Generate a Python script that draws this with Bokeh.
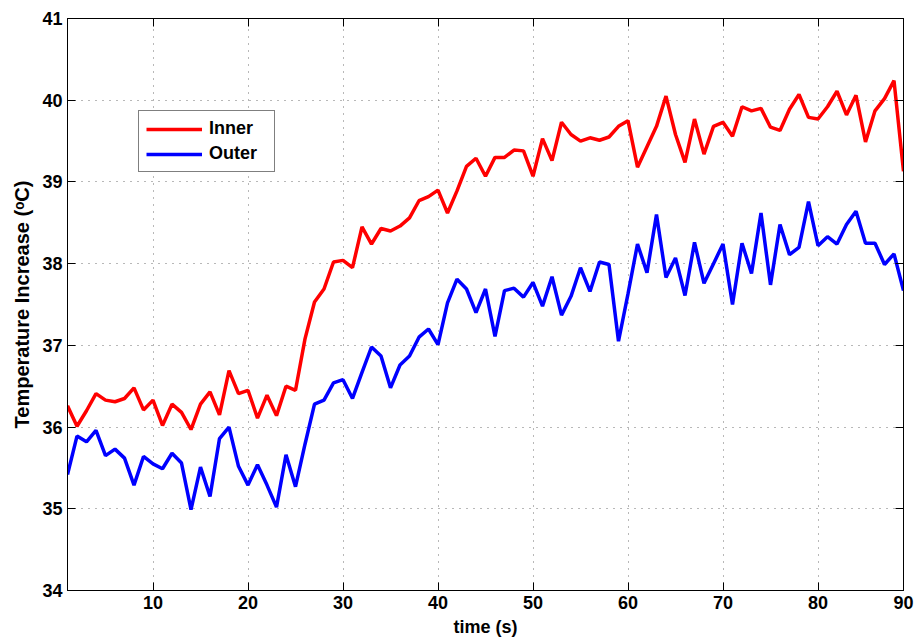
from bokeh.plotting import figure
from bokeh.models import LinearAxis, FixedTicker, Legend, LegendItem, Range1d
from bokeh.embed import file_html
from bokeh.resources import INLINE

# time index (s) of each sample
time = list(range(1, 90))

inner = [36.26, 36.01, 36.20, 36.41, 36.33, 36.31, 36.35, 36.48, 36.21, 36.33,
         36.02, 36.28, 36.18, 35.97, 36.28, 36.43, 36.15, 36.69, 36.41, 36.45,
         36.11, 36.39, 36.14, 36.50, 36.45, 37.08, 37.53, 37.69, 38.02, 38.04,
         37.95, 38.45, 38.24, 38.43, 38.40, 38.46, 38.56, 38.77, 38.82, 38.90,
         38.62, 38.89, 39.19, 39.29, 39.07, 39.30, 39.30, 39.39, 39.38, 39.07,
         39.53, 39.26, 39.73, 39.58, 39.50, 39.54, 39.51, 39.55, 39.68, 39.75,
         39.18, 39.43, 39.68, 40.05, 39.58, 39.24, 39.77, 39.34, 39.68, 39.73,
         39.56, 39.92, 39.87, 39.90, 39.67, 39.63, 39.89, 40.07, 39.79, 39.77,
         39.92, 40.11, 39.82, 40.06, 39.49, 39.87, 40.02, 40.24, 39.13]

outer = [35.42, 35.89, 35.82, 35.96, 35.65, 35.73, 35.62, 35.29, 35.64, 35.55,
         35.49, 35.68, 35.56, 34.99, 35.51, 35.15, 35.86, 36.00, 35.52, 35.29,
         35.54, 35.29, 35.02, 35.66, 35.27, 35.79, 36.28, 36.33, 36.54, 36.58,
         36.35, 36.67, 36.98, 36.87, 36.48, 36.76, 36.87, 37.10, 37.20, 37.01,
         37.52, 37.81, 37.69, 37.40, 37.69, 37.11, 37.67, 37.70, 37.59, 37.77,
         37.48, 37.84, 37.37, 37.60, 37.95, 37.66, 38.02, 37.99, 37.05, 37.63,
         38.24, 37.89, 38.60, 37.83, 38.07, 37.61, 38.26, 37.76, 38.00, 38.24,
         37.50, 38.25, 37.88, 38.62, 37.74, 38.48, 38.11, 38.20, 38.76, 38.22,
         38.33, 38.24, 38.48, 38.64, 38.25, 38.25, 37.99, 38.12, 37.67]

x_ticks = [10, 20, 30, 40, 50, 60, 70, 80, 89]
x_tick_labels = {89: "90"}
y_ticks = [34, 35, 36, 37, 38, 39, 40, 41]
y_title = "Temperature Increase (\u1d52C)"
x_title = "time (s)"

FONT = "Liberation Sans"

p = figure(width=917, height=639, output_backend="svg", toolbar_location=None,
           x_range=Range1d(1, 89), y_range=Range1d(34, 41),
           min_border_left=67, min_border_right=14, min_border_top=18,
           min_border_bottom=49)
p.outline_line_color = "black"
p.outline_line_width = 1

r1 = p.line(time, inner, line_color="#ff0000", line_width=3.5)
r2 = p.line(time, outer, line_color="#0000ff", line_width=3.5)

xt = FixedTicker(ticks=x_ticks)
yt = FixedTicker(ticks=y_ticks)

def style(ax, labels=True):
    ax.axis_line_color = "black"
    ax.axis_line_width = 1
    ax.major_tick_in = 8
    ax.major_tick_out = 0
    ax.minor_tick_line_color = None
    ax.major_tick_line_color = "black"
    ax.major_label_text_font = FONT
    ax.major_label_text_font_style = "bold"
    ax.major_label_text_color = "black"
    ax.major_label_text_font_size = "18px"
    if not labels:
        ax.major_label_overrides = {t: "" for t in ax.ticker.ticks}
        ax.major_label_standoff = 0

xa = p.xaxis[0]
xa.ticker = xt
style(xa)
xa.major_label_overrides = x_tick_labels
xa.major_label_standoff = 5
xa.axis_label = x_title
xa.axis_label_text_font = FONT
xa.axis_label_text_font_style = "bold"
xa.axis_label_text_font_size = "18px"
xa.axis_label_text_color = "black"
xa.axis_label_standoff = 5

ya = p.yaxis[0]
ya.ticker = yt
style(ya)
ya.major_label_standoff = 5
ya.axis_label = y_title
ya.axis_label_text_font = FONT
ya.axis_label_text_font_style = "bold"
ya.axis_label_text_font_size = "20px"
ya.axis_label_text_color = "black"
ya.axis_label_standoff = 6

top = LinearAxis(ticker=FixedTicker(ticks=x_ticks))
style(top, labels=False)
p.add_layout(top, "above")
right = LinearAxis(ticker=FixedTicker(ticks=y_ticks))
style(right, labels=False)
p.add_layout(right, "right")

for g in (p.xgrid[0], p.ygrid[0]):
    g.grid_line_color = "#707070"
    g.grid_line_dash = "1 6"
    g.grid_line_width = 1
p.xgrid[0].ticker = xt
p.ygrid[0].ticker = yt

legend = Legend(items=[LegendItem(label="Inner", renderers=[r1]),
                       LegendItem(label="Outer", renderers=[r2])],
                location=(71, 418))
legend.label_text_font = FONT
legend.label_text_font_style = "bold"
legend.label_text_font_size = "18px"
legend.label_text_color = "black"
legend.glyph_width = 56
legend.glyph_height = 20
legend.label_height = 20
legend.label_width = 58
legend.label_standoff = 7
legend.spacing = 4
legend.padding = 7
legend.margin = 0
legend.border_line_color = "black"
legend.border_line_width = 1
legend.background_fill_alpha = 1
p.add_layout(legend, "center")

open("out.html", "w").write(file_html(p, INLINE))
